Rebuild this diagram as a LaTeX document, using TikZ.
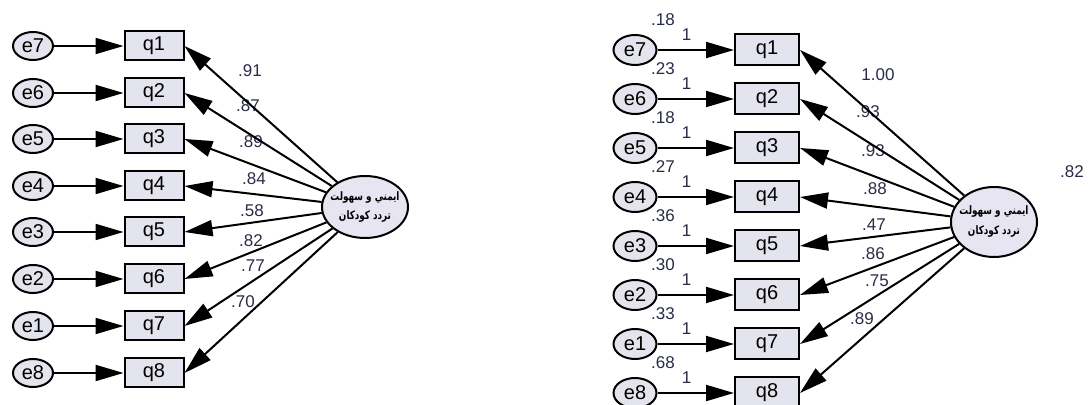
\documentclass[tikz,border=0pt]{standalone}
\usepackage{fontspec}
\setmainfont{Liberation Sans}
\newfontfamily\farsi[Script=Arabic,FakeStretch=0.76]{DejaVu Sans}
\TeXXeTstate=1
\usetikzlibrary{arrows.meta,shapes.geometric}
\definecolor{boxfill}{RGB}{228,228,238}
\definecolor{latfill}{RGB}{232,229,242}
\definecolor{numcol}{RGB}{40,44,70}

\begin{document}
\begin{tikzpicture}[x=0.5pt,y=-0.5pt,
  errnode/.style={ellipse,draw,line width=1pt,fill=boxfill,inner sep=0pt,
    minimum width=20pt,minimum height=14pt,font=\fontsize{10}{10}\selectfont},
  obsnode/.style={rectangle,draw,line width=1pt,fill=boxfill,inner sep=0pt,
    minimum width=29.5pt,minimum height=14.5pt,font=\fontsize{10}{10}\selectfont},
  latnode/.style={ellipse,draw,line width=1pt,fill=latfill,inner sep=0pt,
    minimum width=43pt,minimum height=31pt},
  lattext/.style={inner sep=0pt,font=\farsi\bfseries\fontsize{5.8}{6}\selectfont},
  arr/.style={line width=1pt,-{Triangle[length=14pt,width=8pt]}},
  est/.style={font=\fontsize{8.5}{8.5}\selectfont,text=numcol,inner sep=0pt}]
\useasboundingbox (0,0) rectangle (1092,405);

% standardized model
\foreach \e/\q/\l/\y/\lx/\ly in {e7/q1/.91/46/250/71, e6/q2/.87/93/248/106,
    e5/q3/.89/139/251/142, e4/q4/.84/186/254/179, e3/q5/.58/232/252/211,
    e2/q6/.82/279/251/241, e1/q7/.77/326/253/266, e8/q8/.70/373/243/302} {
  \node[errnode] (A\e) at (33,\y) {\e};
  \node[obsnode] (A\q) at (154,\y) {\q};
  \draw[arr] (A\e) -- (A\q);
  \node[est] (lA\q) at (\lx,\ly) {\l};
}
\node[latnode] (latA) at (365,207) {};
\node[lattext] (tA1) at ([yshift=4.8pt]latA.center) {\beginR ایمني و سهولت\endR};
\node[lattext] (tA2) at ([yshift=-4.8pt]latA.center) {\beginR تردد کودکان\endR};
\foreach \q in {q1,q2,q3,q4,q5,q6,q7,q8}
  \draw[arr] (latA) -- (A\q.east);

% unstandardized model
\foreach \e/\q/\l/\v/\y/\lx/\ly in {e7/q1/1.00/.18/50/878/75, e6/q2/.93/.23/99/868/112,
    e5/q3/.93/.18/148/873/151, e4/q4/.88/.27/197/875/189, e3/q5/.47/.36/246/874/225,
    e2/q6/.86/.30/295/873/254, e1/q7/.75/.33/344/877/281, e8/q8/.89/.68/393/862/319} {
  \node[errnode,minimum width=21.5pt,minimum height=15pt] (B\e) at (635,\y) {\e};
  \node[obsnode,minimum width=32pt,minimum height=15.5pt] (B\q) at (767,\y) {\q};
  \node[est] (vB\e) at (663,\y-30) {\v};
  \draw[arr] (B\e) -- node[est,pos=0.38,above=4pt] (oB\e) {1} (B\q);
  \node[est] (lB\q) at (\lx,\ly) {\l};
}
\node[latnode,minimum height=35pt] (latB) at (994,222) {};
\node[lattext] (tB1) at ([yshift=5pt]latB.center) {\beginR ایمني و سهولت\endR};
\node[lattext] (tB2) at ([yshift=-5pt]latB.center) {\beginR تردد کودکان\endR};
\node[est] (vlatB) at (1072,172) {.82};
\foreach \q in {q1,q2,q3,q4,q5,q6,q7,q8}
  \draw[arr] (latB) -- (B\q.east);
\end{tikzpicture}
\end{document}
